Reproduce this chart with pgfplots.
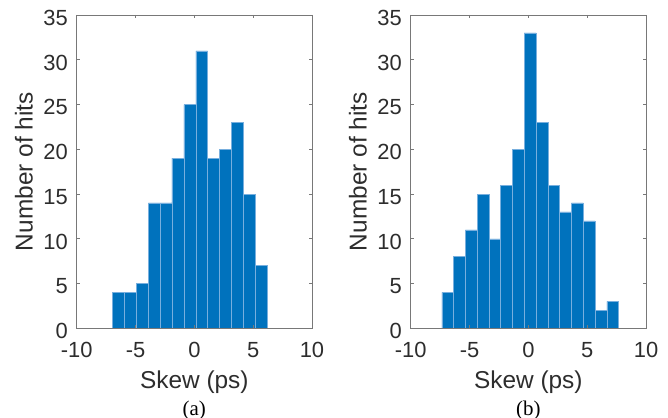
\documentclass[border=0pt]{standalone}
\usepackage{fontspec}
\setmainfont{Liberation Sans}
\newfontfamily\capfont{Liberation Serif}
\usepackage{pgfplots}
\pgfplotsset{compat=1.18}
\definecolor{mblue}{HTML}{0072BD}
\definecolor{medge}{RGB}{120,175,222}
\definecolor{axgray}{RGB}{120,120,120}
\definecolor{txtgray}{RGB}{45,45,45}
\pgfplotsset{
  hist/.style={
    scale only axis,
    width=235.3bp, height=313.3bp,
    anchor=south west,
    xmin=-10, xmax=10, ymin=0, ymax=35,
    xtick={-10,-5,...,10}, ytick={0,5,...,35},
    tick align=inside, tick pos=both,
    major tick length=3.5bp,
    axis line style={draw=axgray, line width=0.8bp},
    every tick/.style={draw=axgray, line width=0.8bp},
    /pgf/number format/assume math mode=true,
    ticklabel style={font=\fontsize{22}{26}\selectfont, text=txtgray, inner sep=0pt},
    xticklabel style={anchor=base, yshift=-29bp},
    yticklabel style={anchor=east, xshift=-8.7bp, yshift=-2.8bp},
    label style={font=\fontsize{24.5}{28}\selectfont, text=txtgray},
    xlabel={Skew (ps)},
    xlabel style={at={(axis description cs:0.5,0)}, anchor=base, yshift=-60bp},
    ylabel={Number of hits},
    ylabel style={at={(axis description cs:0,0.5)}, anchor=center, yshift=52.7bp},
    axis on top,
    clip mode=individual,
  },
  barst/.style={ybar interval, fill=mblue, draw=medge, line width=0.5bp},
}
\begin{document}
\begin{tikzpicture}
\useasboundingbox (0,0) rectangle (668bp,418bp);
\begin{axis}[hist, at={(76.7bp,89.7bp)}]
\addplot[barst] coordinates {
(-6.94,4) (-5.93,4) (-4.92,5) (-3.91,14) (-2.91,14) (-1.90,19) (-0.89,25)
(0.12,31) (1.13,19) (2.14,20) (3.14,23) (4.15,15) (5.16,7) (6.17,7)};
\node[font=\capfont\fontsize{21}{24}\selectfont, anchor=base, text=black] at (axis description cs:0.5,0) [yshift=-86.7bp] {(a)};
\end{axis}
\begin{axis}[hist, at={(410.7bp,89.7bp)}]
\addplot[barst] coordinates {
(-7.36,4) (-6.36,8) (-5.35,11) (-4.35,15) (-3.35,10) (-2.35,16) (-1.35,20)
(-0.35,33) (0.66,23) (1.66,16) (2.66,13) (3.66,14) (4.67,12) (5.67,2) (6.67,3) (7.67,3)};
\node[font=\capfont\fontsize{21}{24}\selectfont, anchor=base, text=black] at (axis description cs:0.5,0) [yshift=-86.7bp] {(b)};
\end{axis}
\end{tikzpicture}
\end{document}
